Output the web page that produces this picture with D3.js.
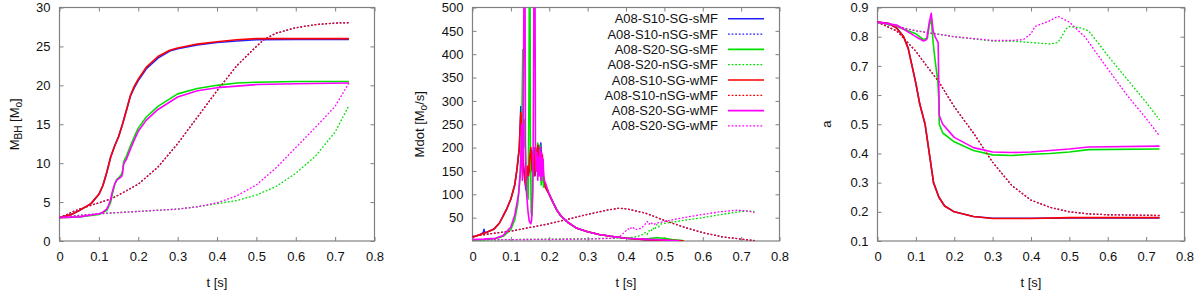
<!DOCTYPE html>
<html><head><meta charset="utf-8">
<script src="https://cdn.jsdelivr.net/npm/d3@7"></script>
<style>
html,body{margin:0;padding:0;background:#fff;}
svg{display:block;font-family:"Liberation Sans",Arial,Helvetica,sans-serif;}
</style></head>
<body><svg id="c" width="1200" height="292"></svg>
<script>
// ---------- DATA ----------
const seriesNames = ["A08-S10-SG-sMF","A08-S10-nSG-sMF","A08-S20-SG-sMF","A08-S20-nSG-sMF",
                     "A08-S10-SG-wMF","A08-S10-nSG-wMF","A08-S20-SG-wMF","A08-S20-SG-wMF"];
const xTicks = [0,0.1,0.2,0.3,0.4,0.5,0.6,0.7,0.8];
const mbhTicks = [0,5,10,15,20,25,30];
const mdotTicks = [50,100,150,200,250,300,350,400,450,500];
const spinTicks = [0.1,0.2,0.3,0.4,0.5,0.6,0.7,0.8,0.9];

// Panel 1: M_BH [Msun]
const mbh_S10_SG_sMF = [[0,3.0],[0.03,3.4],[0.05,3.9],[0.08,4.8],[0.1,6.0],[0.11,7.1],[0.12,8.8],[0.13,10.8],[0.14,12.2],[0.15,13.4],[0.16,15.0],[0.17,16.8],[0.18,18.6],[0.19,19.7],[0.2,20.6],[0.22,22.1],[0.25,23.5],[0.28,24.4],[0.3,24.7],[0.35,25.2],[0.4,25.5],[0.45,25.7],[0.5,25.85],[0.6,25.9],[0.735,25.9]];
const mbh_S10_nSG_sMF = [[0,3.0],[0.05,4.1],[0.1,4.9],[0.13,5.4],[0.15,5.9],[0.2,7.3],[0.25,9.5],[0.3,12.5],[0.35,15.9],[0.4,19.3],[0.45,22.5],[0.5,25.0],[0.52,25.9],[0.55,26.7],[0.6,27.4],[0.65,27.8],[0.7,28.0],[0.735,28.05]];
const mbh_S20_SG_sMF = [[0,3.0],[0.05,3.1],[0.1,3.4],[0.12,3.9],[0.13,5.0],[0.135,6.2],[0.14,7.2],[0.145,7.9],[0.15,8.1],[0.158,8.6],[0.16,9.0],[0.163,10.2],[0.17,10.9],[0.18,12.2],[0.19,13.4],[0.2,14.5],[0.22,15.9],[0.25,17.3],[0.3,18.9],[0.35,19.6],[0.4,20.0],[0.45,20.3],[0.5,20.4],[0.6,20.5],[0.735,20.5]];
const mbh_S20_nSG_sMF = [[0,3.0],[0.05,3.3],[0.1,3.5],[0.2,3.8],[0.3,4.1],[0.35,4.4],[0.4,4.8],[0.45,5.2],[0.5,5.9],[0.55,7.0],[0.6,8.7],[0.65,10.9],[0.7,14.0],[0.735,17.4]];
const mbh_S10_SG_wMF = [[0,3.0],[0.03,3.4],[0.05,3.9],[0.08,4.8],[0.1,6.0],[0.11,7.1],[0.12,8.8],[0.13,10.8],[0.14,12.2],[0.15,13.4],[0.16,15.0],[0.17,16.8],[0.18,18.7],[0.19,19.9],[0.2,20.8],[0.22,22.3],[0.25,23.7],[0.28,24.5],[0.3,24.8],[0.35,25.3],[0.4,25.6],[0.45,25.85],[0.5,26.0],[0.6,26.0],[0.735,26.0]];
const mbh_S10_nSG_wMF = [[0,3.0],[0.05,4.1],[0.1,4.9],[0.13,5.4],[0.15,5.9],[0.2,7.3],[0.25,9.5],[0.3,12.5],[0.35,15.9],[0.4,19.3],[0.45,22.5],[0.5,25.0],[0.52,25.9],[0.55,26.7],[0.6,27.4],[0.65,27.8],[0.7,28.0],[0.735,28.05]];
const mbh_S20_SG_wMF = [[0,3.0],[0.05,3.1],[0.1,3.5],[0.11,3.7],[0.12,4.1],[0.125,4.6],[0.13,5.4],[0.135,6.5],[0.14,7.3],[0.145,7.8],[0.15,8.0],[0.158,8.3],[0.16,8.7],[0.163,9.9],[0.17,10.5],[0.18,11.8],[0.19,13.0],[0.2,14.1],[0.22,15.5],[0.25,16.9],[0.3,18.5],[0.35,19.3],[0.4,19.7],[0.45,19.9],[0.5,20.1],[0.6,20.2],[0.735,20.3]];
const mbh_S20_nSG_wMF = [[0,3.0],[0.05,3.3],[0.1,3.5],[0.2,3.8],[0.3,4.1],[0.35,4.4],[0.4,4.9],[0.45,5.8],[0.5,7.2],[0.55,9.4],[0.6,12.0],[0.65,14.6],[0.7,17.3],[0.735,20.3]];

// Panel 2: Mdot [Msun/s]
const mdot_S10_SG_sMF = [[0,8],[0.02,14],[0.028,18],[0.03,25],[0.032,17],[0.04,20],[0.055,25],[0.07,38],[0.08,54],[0.09,70],[0.1,90],[0.11,120],[0.116,154],[0.122,200],[0.126,288],[0.128,240],[0.13,200],[0.133,160],[0.136,140],[0.139,110],[0.142,150],[0.145,130],[0.148,175],[0.151,145],[0.154,195],[0.157,150],[0.16,200],[0.163,140],[0.166,195],[0.169,150],[0.172,205],[0.175,160],[0.178,210],[0.181,150],[0.184,135],[0.187,125],[0.19,115],[0.2,100],[0.21,82],[0.22,66],[0.23,54],[0.25,39],[0.27,28],[0.3,20],[0.33,14],[0.36,10],[0.4,6],[0.45,3],[0.5,1.5],[0.55,0.5]];
const mdot_S10_nSG_sMF = [[0,10],[0.05,16],[0.1,21],[0.15,29],[0.2,37],[0.25,47],[0.3,57],[0.35,66],[0.38,70],[0.4,69],[0.45,60],[0.5,44],[0.55,30],[0.6,18],[0.65,9],[0.7,4],[0.735,1]];
const mdot_S20_SG_sMF = [[0,2],[0.03,3],[0.06,5],[0.08,10],[0.1,25],[0.11,45],[0.118,80],[0.124,140],[0.128,220],[0.131,410],[0.133,200],[0.136,260],[0.139,150],[0.142,120],[0.145,90],[0.147,300],[0.148,520],[0.15,520],[0.151,200],[0.153,60],[0.155,54],[0.157,100],[0.159,180],[0.161,140],[0.164,200],[0.167,150],[0.17,210],[0.173,140],[0.176,205],[0.179,120],[0.182,160],[0.185,115],[0.19,120],[0.2,100],[0.21,82],[0.22,66],[0.23,54],[0.25,39],[0.27,28],[0.3,20],[0.33,14],[0.36,10],[0.4,6],[0.43,4],[0.46,5],[0.48,7],[0.5,6],[0.52,3],[0.55,0.5]];
const mdot_S20_nSG_sMF = [[0,2],[0.1,3],[0.2,4],[0.3,5],[0.38,6],[0.42,8],[0.44,12],[0.45,18],[0.455,14],[0.46,22],[0.465,20],[0.47,28],[0.475,24],[0.48,35],[0.485,30],[0.49,36],[0.5,38],[0.55,44],[0.6,50],[0.65,57],[0.7,63],[0.72,64],[0.735,63]];
const mdot_S10_SG_wMF = [[0,8],[0.02,14],[0.04,20],[0.055,25],[0.07,38],[0.08,54],[0.09,70],[0.1,90],[0.11,120],[0.116,154],[0.122,200],[0.126,275],[0.128,230],[0.13,210],[0.132,170],[0.135,140],[0.138,120],[0.14,130],[0.143,160],[0.146,140],[0.149,180],[0.152,200],[0.155,150],[0.158,190],[0.161,140],[0.164,200],[0.167,160],[0.17,205],[0.173,150],[0.176,200],[0.179,140],[0.182,185],[0.185,140],[0.188,125],[0.19,115],[0.2,100],[0.21,82],[0.22,66],[0.23,54],[0.25,39],[0.27,28],[0.3,20],[0.33,14],[0.36,10],[0.4,6],[0.45,3],[0.5,1.5],[0.55,0.5]];
const mdot_S10_nSG_wMF = [[0,10],[0.05,16],[0.1,21],[0.15,29],[0.2,37],[0.25,47],[0.3,57],[0.35,66],[0.38,70],[0.4,69],[0.45,60],[0.5,44],[0.55,30],[0.6,18],[0.65,9],[0.7,4],[0.735,1]];
const mdot_S20_SG_wMF = [[0,3],[0.03,4],[0.06,6],[0.08,12],[0.1,30],[0.11,55],[0.12,100],[0.125,150],[0.128,250],[0.13,130],[0.132,200],[0.134,520],[0.137,520],[0.138,200],[0.14,110],[0.142,90],[0.145,60],[0.148,42],[0.152,37],[0.154,45],[0.156,90],[0.158,200],[0.16,520],[0.163,520],[0.164,200],[0.166,150],[0.168,190],[0.17,130],[0.172,180],[0.174,140],[0.176,200],[0.178,130],[0.18,190],[0.182,140],[0.184,175],[0.186,130],[0.19,125],[0.2,100],[0.21,82],[0.22,66],[0.23,54],[0.25,39],[0.27,28],[0.3,20],[0.33,14],[0.36,10],[0.4,6],[0.45,4],[0.5,2],[0.54,0]];
const mdot_S20_nSG_wMF = [[0,3],[0.1,3],[0.2,3.5],[0.3,4],[0.37,6],[0.385,10],[0.395,18],[0.405,26],[0.41,24],[0.415,30],[0.42,28],[0.425,24],[0.43,26],[0.44,27],[0.445,32],[0.45,36],[0.455,42],[0.46,36],[0.465,40],[0.47,35],[0.48,38],[0.5,42],[0.55,50],[0.6,57],[0.65,63],[0.69,66],[0.72,64],[0.735,61]];

// Panel 3: spin a
const spin_S10_SG_sMF = [[0,0.85],[0.03,0.845],[0.05,0.83],[0.068,0.8],[0.08,0.76],[0.09,0.7],[0.1,0.64],[0.11,0.57],[0.124,0.5],[0.135,0.4],[0.146,0.3],[0.16,0.25],[0.175,0.22],[0.2,0.2],[0.25,0.184],[0.3,0.178],[0.4,0.178],[0.5,0.179],[0.735,0.179]];
const spin_S10_nSG_sMF = [[0,0.85],[0.05,0.82],[0.1,0.75],[0.128,0.7],[0.16,0.645],[0.2,0.56],[0.25,0.47],[0.285,0.4],[0.3,0.37],[0.35,0.29],[0.4,0.24],[0.45,0.215],[0.5,0.2],[0.55,0.193],[0.6,0.19],[0.735,0.187]];
const spin_S20_SG_sMF = [[0,0.85],[0.05,0.835],[0.1,0.81],[0.12,0.79],[0.13,0.795],[0.135,0.84],[0.14,0.86],[0.145,0.78],[0.15,0.72],[0.157,0.65],[0.16,0.58],[0.161,0.5],[0.17,0.47],[0.2,0.44],[0.25,0.41],[0.3,0.395],[0.35,0.393],[0.4,0.397],[0.45,0.4],[0.5,0.405],[0.55,0.413],[0.735,0.415]];
const spin_S20_nSG_sMF = [[0,0.85],[0.05,0.835],[0.1,0.82],[0.2,0.8],[0.3,0.785],[0.35,0.785],[0.4,0.78],[0.45,0.775],[0.47,0.78],[0.48,0.8],[0.49,0.825],[0.5,0.835],[0.53,0.83],[0.55,0.82],[0.58,0.77],[0.6,0.735],[0.65,0.655],[0.7,0.575],[0.735,0.515]];
const spin_S10_SG_wMF = [[0,0.85],[0.03,0.845],[0.05,0.83],[0.068,0.8],[0.08,0.76],[0.09,0.7],[0.1,0.64],[0.11,0.57],[0.124,0.5],[0.135,0.4],[0.146,0.3],[0.16,0.25],[0.175,0.22],[0.2,0.2],[0.25,0.184],[0.3,0.177],[0.4,0.177],[0.5,0.18],[0.735,0.18]];
const spin_S10_nSG_wMF = [[0,0.85],[0.05,0.82],[0.1,0.75],[0.128,0.7],[0.16,0.645],[0.2,0.56],[0.25,0.47],[0.285,0.4],[0.3,0.37],[0.35,0.29],[0.4,0.24],[0.45,0.215],[0.5,0.2],[0.55,0.193],[0.6,0.19],[0.735,0.188]];
const spin_S20_SG_wMF = [[0,0.85],[0.05,0.84],[0.1,0.8],[0.12,0.785],[0.128,0.79],[0.135,0.85],[0.14,0.88],[0.145,0.82],[0.15,0.8],[0.158,0.78],[0.161,0.53],[0.17,0.5],[0.2,0.455],[0.25,0.42],[0.3,0.405],[0.35,0.403],[0.4,0.405],[0.45,0.41],[0.5,0.415],[0.55,0.422],[0.735,0.425]];
const spin_S20_nSG_wMF = [[0,0.85],[0.1,0.82],[0.2,0.8],[0.3,0.787],[0.35,0.787],[0.38,0.79],[0.4,0.81],[0.41,0.835],[0.43,0.845],[0.45,0.855],[0.47,0.87],[0.5,0.85],[0.54,0.8],[0.6,0.69],[0.65,0.6],[0.7,0.52],[0.735,0.46]];

// ---------- STYLE ----------
const colors = ["#2020ff","#2020ff","#00e000","#00e000","#ff0000","#ff0000","#ff00ff","#ff00ff"];
const dashed = [false,true,false,true,false,true,false,true];
const frameColor = "#808080";

const svg = d3.select("#c");
const yTop = 7.5, yBot = 241;
const FS = "13px";
const panels = [
  {x0:59.5, x1:374.5, ydom:[0,30], yticks:mbhTicks, fmt:d=>String(d), labelX:14,
   data:[mbh_S10_SG_sMF,mbh_S10_nSG_sMF,mbh_S20_SG_sMF,mbh_S20_nSG_sMF,mbh_S10_SG_wMF,mbh_S10_nSG_wMF,mbh_S20_SG_wMF,mbh_S20_nSG_wMF], label:"mbh"},
  {x0:472.5, x1:779.5, ydom:[0,500], yticks:mdotTicks, fmt:d=>String(d), labelX:419,
   data:[mdot_S10_SG_sMF,mdot_S10_nSG_sMF,mdot_S20_SG_sMF,mdot_S20_nSG_sMF,mdot_S10_SG_wMF,mdot_S10_nSG_wMF,mdot_S20_SG_wMF,mdot_S20_nSG_wMF], label:"mdot"},
  {x0:877.5, x1:1184.5, ydom:[0.1,0.9], yticks:spinTicks, fmt:d=>d.toFixed(1), labelX:826,
   data:[spin_S10_SG_sMF,spin_S10_nSG_sMF,spin_S20_SG_sMF,spin_S20_nSG_sMF,spin_S10_SG_wMF,spin_S10_nSG_wMF,spin_S20_SG_wMF,spin_S20_nSG_wMF], label:"a"}
];

panels.forEach((p,pi)=>{
  const x = d3.scaleLinear().domain([0,0.8]).range([p.x0,p.x1]);
  const y = d3.scaleLinear().domain(p.ydom).range([yBot,yTop]);
  const g = svg.append("g");
  const clipId = "clip"+pi;
  svg.append("clipPath").attr("id",clipId).append("rect")
     .attr("x",p.x0).attr("y",yTop).attr("width",p.x1-p.x0).attr("height",yBot-yTop);

  const xf = d=> d===0 ? "0" : d.toFixed(1);
  const axB = g.append("g").attr("transform",`translate(0,${yBot})`)
     .call(d3.axisBottom(x).tickValues(xTicks).tickSizeInner(-4).tickSizeOuter(0).tickPadding(10).tickFormat(xf));
  const axT = g.append("g").attr("transform",`translate(0,${yTop})`)
     .call(d3.axisTop(x).tickValues(xTicks).tickSizeInner(-4).tickSizeOuter(0).tickFormat(""));
  const axL = g.append("g").attr("transform",`translate(${p.x0},0)`)
     .call(d3.axisLeft(y).tickValues(p.yticks).tickSizeInner(-4).tickSizeOuter(0).tickPadding(9).tickFormat(p.fmt));
  const axR = g.append("g").attr("transform",`translate(${p.x1},0)`)
     .call(d3.axisRight(y).tickValues(p.yticks).tickSizeInner(-4).tickSizeOuter(0).tickFormat(""));
  [axB,axT,axL,axR].forEach(a=>{
    a.select(".domain").remove();
    a.selectAll("line").attr("stroke",frameColor).attr("stroke-width",1);
    a.selectAll("text").attr("fill","#111").style("font-size",FS).style("font-family","'Liberation Sans',Arial,sans-serif");
  });
  axB.selectAll("text").attr("dy","0.32em").attr("y",16);

  g.append("rect").attr("x",p.x0).attr("y",yTop).attr("width",p.x1-p.x0).attr("height",yBot-yTop)
    .attr("fill","none").attr("stroke",frameColor).attr("stroke-width",1.2);

  const line = d3.line().x(d=>x(d[0])).y(d=>y(d[1]));
  const lg = g.append("g").attr("clip-path",`url(#${clipId})`);
  p.data.forEach((s,i)=>{
    lg.append("path").datum(s).attr("d",line).attr("fill","none")
      .attr("stroke",colors[i]).attr("stroke-width",dashed[i]?1.3:1.6)
      .attr("stroke-linejoin","round")
      .attr("stroke-dasharray",dashed[i]? "1.8,1.8" : null);
  });

  g.append("text").attr("x",(p.x0+p.x1)/2).attr("y",282).attr("dy","0.35em")
    .attr("text-anchor","middle").style("font-size",FS).attr("fill","#111").text("t [s]");

  const yl = g.append("text").attr("transform",`translate(${p.labelX},${(yTop+yBot)/2}) rotate(-90)`)
    .attr("text-anchor","middle").attr("dy","0.35em").style("font-size",FS).attr("fill","#111");
  if(p.label==="mbh"){
    yl.append("tspan").text("M");
    yl.append("tspan").attr("dy","3").style("font-size","10px").text("BH");
    yl.append("tspan").attr("dy","-3").text(" [M");
    yl.append("tspan").attr("dy","3").style("font-size","10px").text("o");
    yl.append("tspan").attr("dy","-3").text("]");
  } else if(p.label==="mdot"){
    yl.append("tspan").text("Mdot [M");
    yl.append("tspan").attr("dy","3").style("font-size","10px").text("o");
    yl.append("tspan").attr("dy","-3").text("/s]");
  } else {
    yl.text("a");
  }

  if(pi===1){
    const leg = g.append("g");
    seriesNames.forEach((n,i)=>{
      const yy = 18.8 + i*15.3;
      leg.append("text").attr("x",718).attr("y",yy).attr("dy","0.35em").attr("text-anchor","end")
        .style("font-size","13px").attr("fill","#111").text(n);
      leg.append("line").attr("x1",728).attr("x2",764).attr("y1",yy).attr("y2",yy)
        .attr("stroke",colors[i]).attr("stroke-width",dashed[i]?1.3:1.6)
        .attr("stroke-dasharray",dashed[i]? "1.8,1.8" : null);
    });
  }
});
</script></body></html>
